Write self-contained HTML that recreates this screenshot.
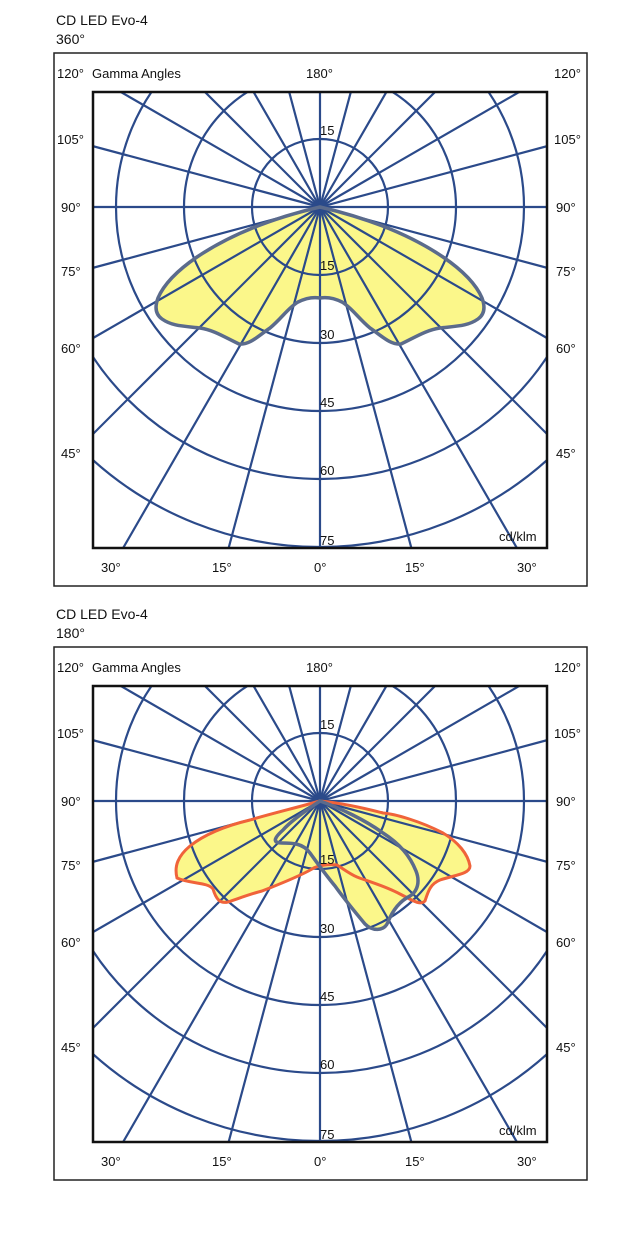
<!DOCTYPE html>
<html><head><meta charset="utf-8"><style>
html,body{margin:0;padding:0;background:#fff;width:640px;height:1240px;overflow:hidden;}
svg{display:block;font-family:"Liberation Sans",Arial,sans-serif;}
</style></head><body>
<svg width="640" height="1240" viewBox="0 0 640 1240" xmlns="http://www.w3.org/2000/svg">
<defs>
<clipPath id="pc"><rect x="93" y="92" width="454" height="456"/></clipPath>
<g id="grid">
  <g clip-path="url(#pc)" stroke="#2b4a8a" stroke-width="2.2" fill="none">
    <circle cx="320" cy="207" r="68"/>
    <circle cx="320" cy="207" r="136"/>
    <circle cx="320" cy="207" r="204"/>
    <circle cx="320" cy="207" r="272"/>
    <circle cx="320" cy="207" r="340"/>
    <g id="spk">
      <line x1="320" y1="207" x2="320" y2="807"/>
      <line x1="320" y1="207" x2="320" y2="807" transform="rotate(15 320 207)"/>
      <line x1="320" y1="207" x2="320" y2="807" transform="rotate(30 320 207)"/>
      <line x1="320" y1="207" x2="320" y2="807" transform="rotate(45 320 207)"/>
      <line x1="320" y1="207" x2="320" y2="807" transform="rotate(60 320 207)"/>
      <line x1="320" y1="207" x2="320" y2="807" transform="rotate(75 320 207)"/>
      <line x1="320" y1="207" x2="320" y2="807" transform="rotate(90 320 207)"/>
      <line x1="320" y1="207" x2="320" y2="807" transform="rotate(105 320 207)"/>
      <line x1="320" y1="207" x2="320" y2="807" transform="rotate(120 320 207)"/>
      <line x1="320" y1="207" x2="320" y2="807" transform="rotate(135 320 207)"/>
      <line x1="320" y1="207" x2="320" y2="807" transform="rotate(150 320 207)"/>
      <line x1="320" y1="207" x2="320" y2="807" transform="rotate(165 320 207)"/>
      <line x1="320" y1="207" x2="320" y2="807" transform="rotate(180 320 207)"/>
      <line x1="320" y1="207" x2="320" y2="807" transform="rotate(195 320 207)"/>
      <line x1="320" y1="207" x2="320" y2="807" transform="rotate(210 320 207)"/>
      <line x1="320" y1="207" x2="320" y2="807" transform="rotate(225 320 207)"/>
      <line x1="320" y1="207" x2="320" y2="807" transform="rotate(240 320 207)"/>
      <line x1="320" y1="207" x2="320" y2="807" transform="rotate(255 320 207)"/>
      <line x1="320" y1="207" x2="320" y2="807" transform="rotate(270 320 207)"/>
      <line x1="320" y1="207" x2="320" y2="807" transform="rotate(285 320 207)"/>
      <line x1="320" y1="207" x2="320" y2="807" transform="rotate(300 320 207)"/>
      <line x1="320" y1="207" x2="320" y2="807" transform="rotate(315 320 207)"/>
      <line x1="320" y1="207" x2="320" y2="807" transform="rotate(330 320 207)"/>
      <line x1="320" y1="207" x2="320" y2="807" transform="rotate(345 320 207)"/>
    </g>
  </g>
</g>
<g id="labels" font-size="13" fill="#111">
  <rect x="54" y="53" width="533" height="533" fill="none" stroke="#222" stroke-width="1.5"/>
  <rect x="93" y="92" width="454" height="456" fill="none" stroke="#111" stroke-width="2.5"/>
  <text x="57" y="78">120°</text><text x="92" y="78">Gamma Angles</text>
  <text x="306" y="78">180°</text><text x="554" y="78">120°</text>
  <text x="57" y="144">105°</text><text x="554" y="144">105°</text>
  <text x="61" y="212">90°</text><text x="556" y="212">90°</text>
  <text x="61" y="276">75°</text><text x="556" y="276">75°</text>
  <text x="61" y="353">60°</text><text x="556" y="353">60°</text>
  <text x="61" y="458">45°</text><text x="556" y="458">45°</text>
  <text x="101" y="572">30°</text><text x="212" y="572">15°</text>
  <text x="314" y="572">0°</text><text x="405" y="572">15°</text><text x="517" y="572">30°</text>
  <text x="499" y="541">cd/klm</text>
</g>
<g id="rl" font-size="13" fill="#111">
  <text x="320" y="135">15</text>
  <text x="320" y="270">15</text>
  <text x="320" y="339">30</text>
  <text x="320" y="407">45</text>
  <text x="320" y="475">60</text>
  <text x="320" y="545">75</text>
</g>
</defs>

<g font-size="14" fill="#111">
  <text x="56" y="25">CD LED Evo-4</text>
  <text x="56" y="44">360°</text>
  <text x="56" y="619">CD LED Evo-4</text>
  <text x="56" y="638">180°</text>
</g>

<!-- Chart 1 -->
<path d="M320,207 C290,214 240,228 197,257 C178,270 164,284 158,298 C155,306 155,314 162,319 C172,326 182,326 200,328 C214,330 226,338 239,344 C250,345 258,336 270,328 C282,318 288,308 298,302 C306,298 314,297 320,298 C326,297 334,298 342,302 C352,308 358,318 370,328 C382,336 390,345 401,344 C414,338 426,330 440,328 C458,326 468,326 478,319 C485,314 485,306 482,298 C476,284 462,270 443,257 C400,228 350,214 320,207 Z" fill="#fbf78a"/>
<use href="#grid"/>
<path d="M320,207 C290,214 240,228 197,257 C178,270 164,284 158,298 C155,306 155,314 162,319 C172,326 182,326 200,328 C214,330 226,338 239,344 C250,345 258,336 270,328 C282,318 288,308 298,302 C306,298 314,297 320,298 C326,297 334,298 342,302 C352,308 358,318 370,328 C382,336 390,345 401,344 C414,338 426,330 440,328 C458,326 468,326 478,319 C485,314 485,306 482,298 C476,284 462,270 443,257 C400,228 350,214 320,207 Z" fill="none" stroke="#5b6b8c" stroke-width="3.5"/>
<use href="#labels"/>
<use href="#rl"/>

<!-- Chart 2 -->
<g transform="translate(0,594)">
<path d="M320,207 C295,214 270,220 250,226 C225,232 205,240 190,252 C178,262 174,272 177,284 C190,290 208,288 213,295 C216,305 220,310 228,308 C240,304 250,300 262,297 C280,290 300,282 312,275 C318,271 330,270 337,271 C345,276 350,280 357,283 C370,288 385,292 400,300 C412,306 420,312 425,307 C428,298 430,290 440,286 C455,281 470,280 470,272 C468,260 458,248 443,239 C420,227 395,220 383,219 C360,213 340,209 320,207 Z" fill="#fbf78a"/>
<path d="M320,207 C305,217 290,228 283,236 C274,244 272,249 282,249 C292,249 303,249 310,259 C318,270 325,280 335,292 C345,306 355,318 365,330 C372,337 384,338 388,328 C392,318 398,308 410,302 C418,297 420,287 416,277 C410,262 400,250 383,239 C365,226 340,214 320,207 Z" fill="#fbf78a"/>
<use href="#grid"/>
<path d="M320,207 C295,214 270,220 250,226 C225,232 205,240 190,252 C178,262 174,272 177,284 C190,290 208,288 213,295 C216,305 220,310 228,308 C240,304 250,300 262,297 C280,290 300,282 312,275 C318,271 330,270 337,271 C345,276 350,280 357,283 C370,288 385,292 400,300 C412,306 420,312 425,307 C428,298 430,290 440,286 C455,281 470,280 470,272 C468,260 458,248 443,239 C420,227 395,220 383,219 C360,213 340,209 320,207 Z" fill="none" stroke="#f0633a" stroke-width="3"/>
<path d="M320,207 C305,217 290,228 283,236 C274,244 272,249 282,249 C292,249 303,249 310,259 C318,270 325,280 335,292 C345,306 355,318 365,330 C372,337 384,338 388,328 C392,318 398,308 410,302 C418,297 420,287 416,277 C410,262 400,250 383,239 C365,226 340,214 320,207 Z" fill="none" stroke="#5b6b8c" stroke-width="3.5"/>
<use href="#labels"/>
<use href="#rl"/>
</g>
</svg>
</body></html>
